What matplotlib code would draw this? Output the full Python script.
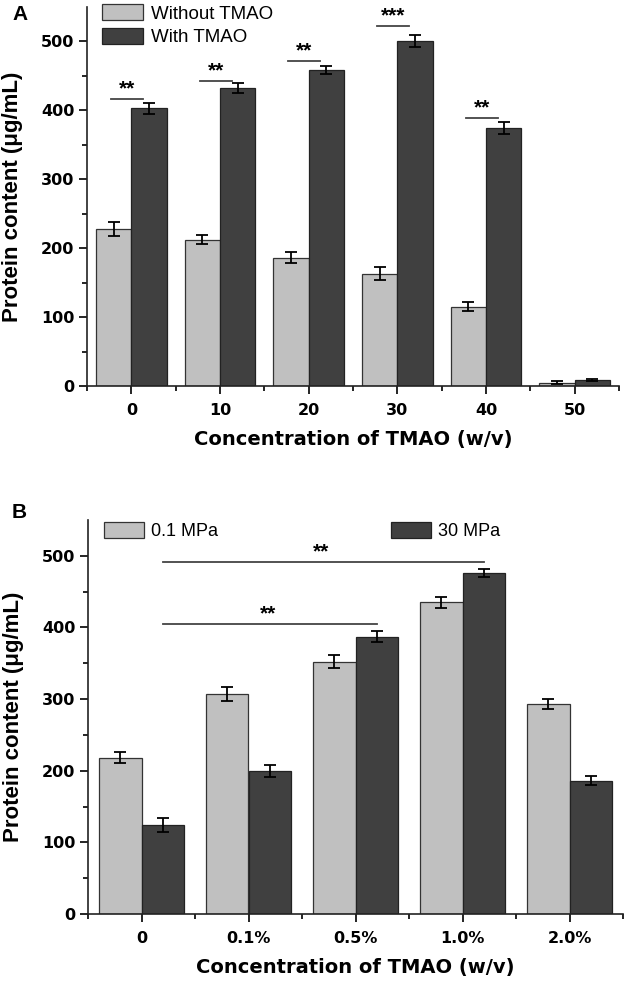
import matplotlib
matplotlib.use("Agg")
import matplotlib.pyplot as plt
import numpy as np
from matplotlib.ticker import FixedLocator

plt.rcParams['font.family'] = ['DejaVu Sans']

# ---- Panel A data ----
cats_a = ["0", "10", "20", "30", "40", "50"]
without_tmao = [228, 212, 186, 163, 115, 5]
without_err = [10, 6.5, 8, 9, 6.5, 2]
with_tmao = [403, 432, 459, 501, 374, 9]
with_err = [8, 7.5, 6, 9, 8.5, 1.5]
sig_a_height = [417, 443, 472, 522, 389]
sig_a_text = ["**", "**", "**", "***", "**"]

# ---- Panel B data ----
cats_b = ["0", "0.1%", "0.5%", "1.0%", "2.0%"]
p01 = [218, 307, 352, 435, 293]
p01_err = [7.5, 10, 9, 8, 7]
p30 = [124, 200, 387, 476, 186]
p30_err = [10, 8.5, 7.5, 6, 6.5]
sig_b = [(0, 2, 405, "**"), (0, 3, 491, "**")]

light = "#c0c0c0"
dark = "#404040"
W = 0.4
LIB = ['Liberation Sans', 'DejaVu Sans']

fig = plt.figure(figsize=(6.29, 9.86), dpi=100)
axA = fig.add_axes([87/629, 1-386/986, (619-87)/629, (386-7)/986])
axB = fig.add_axes([88/629, 1-914/986, (623-88)/629, (914-520)/986])


def style(ax, ncat, labels):
    ax.set_xlim(-0.5, ncat - 0.5)
    ax.set_ylim(0, 550)
    for s in ['top', 'right']:
        ax.spines[s].set_visible(False)
    for s in ['left', 'bottom']:
        ax.spines[s].set_linewidth(1.2)
        ax.spines[s].set_color('#222222')
    ax.yaxis.set_major_locator(FixedLocator([0, 100, 200, 300, 400, 500]))
    ax.yaxis.set_minor_locator(FixedLocator([50, 150, 250, 350, 450]))
    ax.set_xticks(np.arange(ncat))
    ax.set_xticklabels(labels)
    ax.xaxis.set_minor_locator(FixedLocator(np.arange(ncat + 1) - 0.5))
    ax.tick_params(axis='both', which='major', length=6, width=1.2, direction='out', labelsize=11.5)
    ax.tick_params(axis='both', which='minor', length=3.5, width=1.2, direction='out')
    ax.tick_params(axis='y', which='major', pad=3)
    ax.tick_params(axis='x', which='major', pad=6)
    for lab in ax.get_xticklabels() + ax.get_yticklabels():
        lab.set_fontweight('bold')
    ax.set_ylabel("Protein content (μg/mL)", fontsize=16, fontweight='bold', family=LIB)
    ax.yaxis.set_label_coords(-0.12, 0.5)
    ax.set_xlabel("Concentration of TMAO (w/v)", fontsize=14, fontweight='bold', labelpad=9)

ekw = dict(ecolor='black', elinewidth=1.3, capsize=4, capthick=1.3)

# Panel A
xa = np.arange(len(cats_a))
axA.bar(xa - W/2, without_tmao, W, color=light, edgecolor='#333333', linewidth=0.9,
        yerr=without_err, error_kw=ekw, label="Without TMAO")
axA.bar(xa + W/2, with_tmao, W, color=dark, edgecolor='#222222', linewidth=0.9,
        yerr=with_err, error_kw=ekw, label="With TMAO")
for i, (h, t) in enumerate(zip(sig_a_height, sig_a_text)):
    axA.plot([i - 0.23, i + 0.13], [h, h], color='#444444', lw=1.3)
    axA.text(i - 0.05, h + 1, t, ha='center', va='bottom', fontsize=15, fontweight='bold', family=LIB)
style(axA, len(cats_a), cats_a)
axA.legend(loc='upper left', bbox_to_anchor=((102-87)/532, 1.0 + 3/379), frameon=False,
           borderpad=0, borderaxespad=0,
           handlelength=2.2, handleheight=0.95, handletextpad=0.4, labelspacing=0.28,
           prop={'family': LIB, 'size': 13.5})
fig.text(12/629, 1-15/986, "A", fontsize=15, fontweight='bold', family=LIB, va='center')

# Panel B
xb = np.arange(len(cats_b))
axB.bar(xb - W/2, p01, W, color=light, edgecolor='#333333', linewidth=0.9,
        yerr=p01_err, error_kw=ekw, label="0.1 MPa")
axB.bar(xb + W/2, p30, W, color=dark, edgecolor='#222222', linewidth=0.9,
        yerr=p30_err, error_kw=ekw, label="30 MPa")
for a, b, h, t in sig_b:
    axB.plot([a + W/2, b + W/2], [h, h], color='#444444', lw=1.3)
    axB.text((a + b) / 2 + W/2 - 0.02, h + 1, t, ha='center', va='bottom', fontsize=15, fontweight='bold', family=LIB)
style(axB, len(cats_b), cats_b)
axB.legend(loc='upper left', bbox_to_anchor=((104-88)/535, 1.0 - 2/394), ncol=2, frameon=False,
           borderpad=0, borderaxespad=0,
           handlelength=2.2, handleheight=1.0, handletextpad=0.4, columnspacing=9.6,
           prop={'family': LIB, 'size': 13})
fig.text(12/629, 1-513/986, "B", fontsize=15, fontweight='bold', family=LIB, va='center')

fig.savefig("out.png", dpi=100)
